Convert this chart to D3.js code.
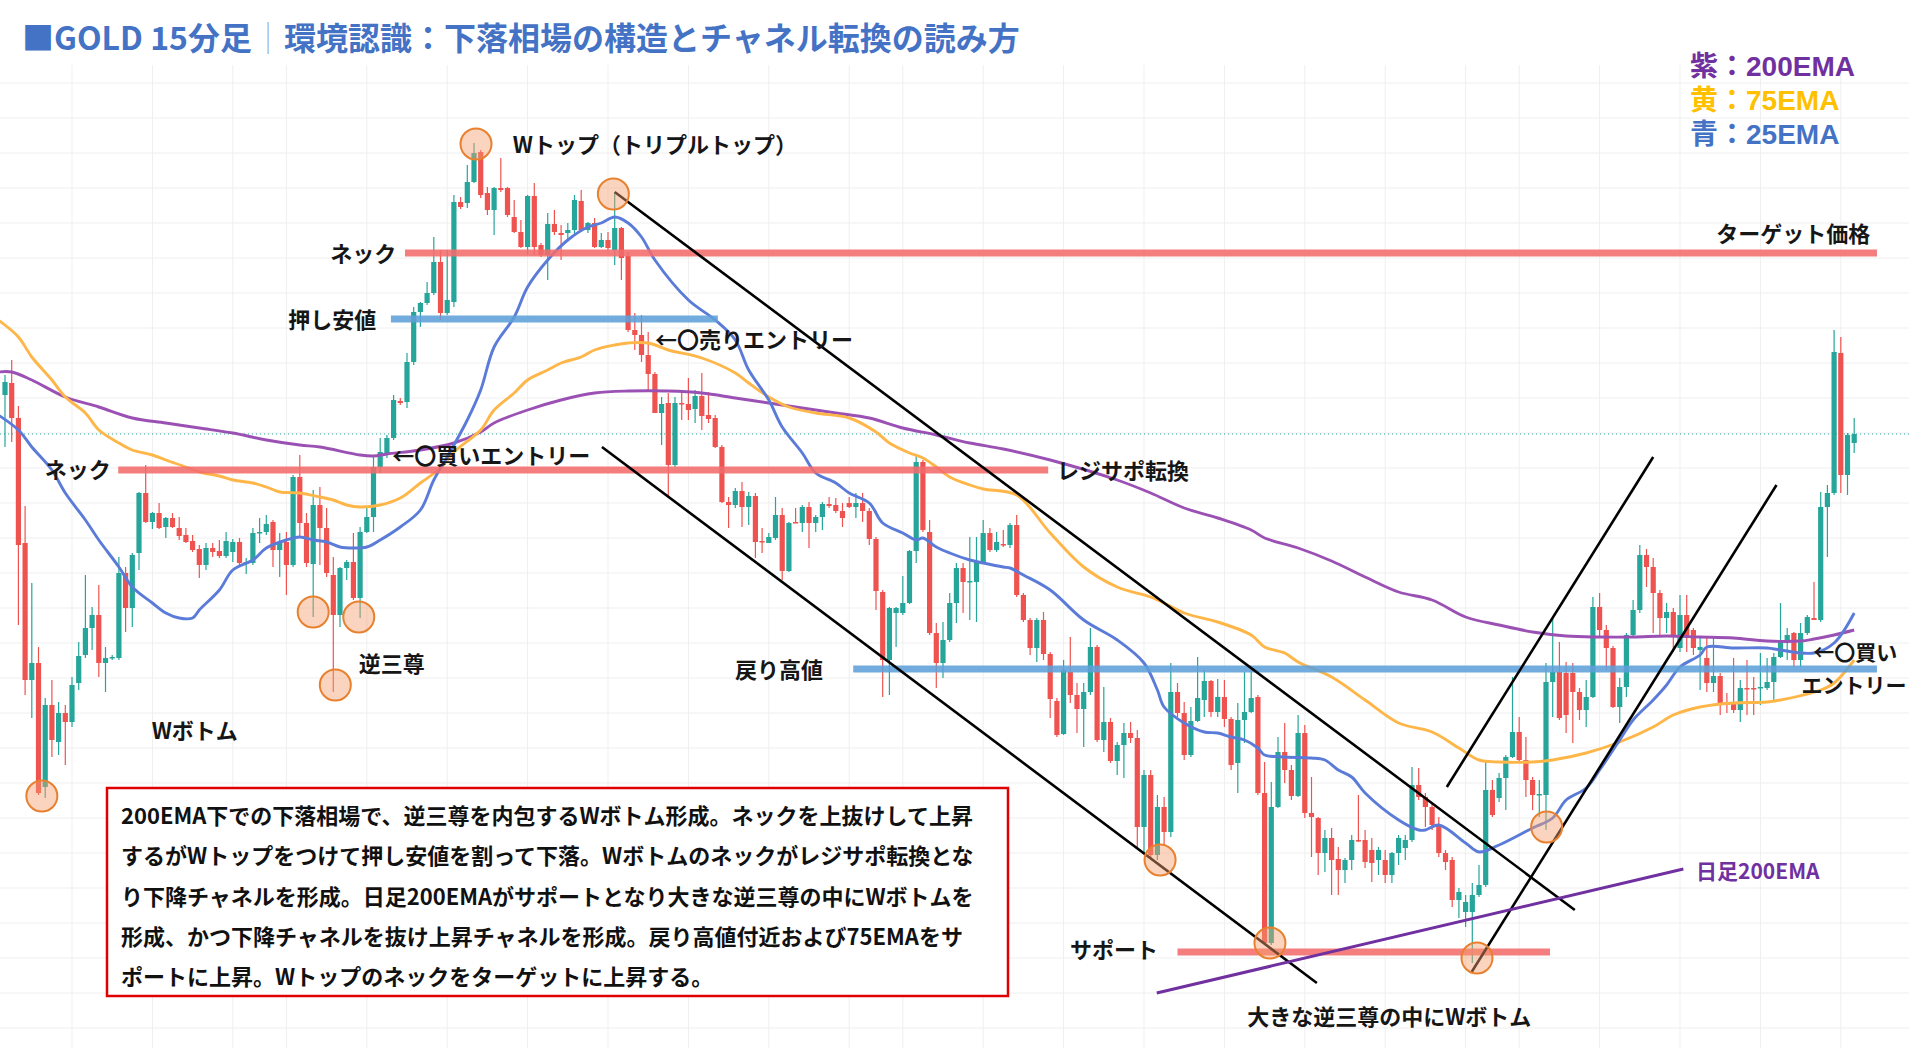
<!DOCTYPE html>
<html><head><meta charset="utf-8">
<script src="https://cdn.jsdelivr.net/npm/d3@7"></script>
<style>
html,body{margin:0;padding:0;background:#fff;}
svg{display:block;}
text{font-family:"Noto Sans CJK JP","Noto Sans",sans-serif;}
</style></head><body>
<svg id="chart" width="1909" height="1048"></svg>
<script>
// ---- candle data (price points, one per 15-minute bar) ----
const openP = [605,617,582,457,320,337,213,295,258,287,
278,317,345,372,385,337,342,342,427,392,
447,507,478,487,473,482,472,465,459,451,
435,452,449,444,448,458,437,437,467,468,
478,450,458,435,523,477,436,495,472,425,
385,432,438,402,468,483,533,545,562,599,
598,638,688,697,707,738,687,698,798,797,
818,848,807,790,812,812,783,768,753,804,
755,745,776,767,767,770,799,770,777,753,
760,750,772,744,670,665,645,626,587,597,
535,597,596,591,604,585,582,553,498,495,
509,493,504,459,457,462,485,429,478,477,
493,477,483,496,495,489,497,493,497,489,
461,408,340,387,387,397,449,538,468,367,
337,360,397,432,418,418,438,467,450,456,
455,475,405,380,352,380,346,299,266,328,
305,291,308,353,260,278,239,255,267,262,
173,225,145,193,168,308,287,245,279,300,
319,288,303,281,237,280,288,303,207,57,
193,248,230,204,267,187,182,147,162,141,
130,140,160,160,150,140,140,125,147,152,
160,215,203,193,175,147,140,100,88,88,
105,115,210,202,222,243,268,240,220,205,
205,318,328,327,327,308,290,303,393,370,
352,293,313,365,390,445,433,407,382,388,
352,385,370,350,342,317,324,298,298,290,
312,312,312,312,318,343,360,367,340,367,
382,380,493,507,647,525,557];
const highP = [625,640,594,494,417,353,302,320,298,295,
323,358,425,393,415,353,345,443,433,447,
508,535,488,497,483,487,483,472,465,455,
457,457,460,468,461,462,442,472,482,485,
480,467,468,525,545,487,510,513,492,443,
433,440,467,473,492,543,562,565,605,602,
647,693,698,718,763,750,750,805,803,835,
857,850,813,813,842,813,800,780,805,817,
757,787,790,775,777,805,810,778,782,767,
768,808,773,748,687,685,668,628,603,607,
603,610,622,610,627,608,585,555,503,512,
518,508,507,472,467,503,492,478,492,495,
498,485,498,503,502,497,503,507,507,492,
463,410,393,393,424,450,545,540,480,377,
378,407,437,437,463,463,480,472,468,470,
477,485,407,382,382,388,348,302,340,363,
317,317,372,355,313,282,258,277,278,270,
230,230,205,203,337,317,298,293,343,330,
320,321,320,283,297,328,330,305,238,218,
263,277,235,285,275,223,183,170,172,153,
142,165,205,170,162,153,150,148,165,165,
233,232,207,197,183,150,143,112,105,117,
135,238,220,227,245,323,283,263,223,220,
337,382,358,338,337,312,320,403,407,375,
354,322,367,400,455,451,442,410,397,392,
405,405,372,363,362,363,327,307,342,320,
340,323,347,342,347,397,372,368,377,385,
418,508,515,670,663,567,582];
const lowP = [553,558,375,305,282,205,202,243,245,235,
273,310,342,350,323,308,340,340,368,373,
430,477,471,471,462,472,460,457,448,422,
430,443,442,442,438,435,426,435,457,465,
433,423,405,433,463,433,383,435,423,308,
373,420,400,382,467,468,527,542,560,595,
592,635,673,695,705,680,685,693,791,792,
817,802,785,765,808,783,767,752,745,745,
743,720,765,740,760,765,768,767,752,752,
750,735,720,668,650,638,610,587,555,503,
533,580,580,577,570,577,552,497,472,492,
473,475,442,447,457,460,420,428,477,468,
452,468,470,492,487,473,492,482,478,455,
390,303,305,353,385,396,437,468,365,312,
322,358,377,387,380,378,437,448,448,453,
452,403,378,345,338,340,282,263,265,297,
267,253,305,258,248,237,225,222,257,152,
147,142,140,155,163,283,240,243,278,283,
283,283,273,230,207,257,287,205,55,55,
192,217,200,203,182,143,125,128,105,105,
117,130,158,132,118,125,117,117,135,140,
158,200,173,170,143,130,93,82,73,37,
103,113,183,198,190,242,237,203,190,183,
170,283,280,267,257,280,273,302,362,330,
292,277,303,362,387,413,367,365,367,348,
348,348,345,310,308,308,285,287,287,278,
285,285,295,310,300,342,340,333,333,365,
380,378,443,505,507,505,547];
const closeP = [618,582,455,320,337,207,295,260,287,278,
315,344,372,385,337,342,343,427,392,445,
507,478,487,472,482,473,464,458,450,435,
452,448,444,459,458,437,438,467,468,476,
450,458,435,523,477,437,495,472,427,385,
432,438,402,468,483,533,548,562,600,597,
638,688,697,707,738,687,700,798,793,818,
847,805,790,812,810,785,768,753,804,753,
745,776,768,765,770,800,770,777,753,760,
752,772,742,670,665,645,626,587,596,535,
597,596,590,604,584,581,553,498,495,509,
493,504,458,458,463,485,429,477,477,493,
477,483,496,494,489,482,493,497,489,461,
409,340,392,392,397,449,538,470,367,337,
360,397,432,418,419,438,467,450,458,455,
475,405,380,352,380,346,301,265,330,305,
291,308,353,260,278,239,255,267,262,173,
225,145,193,168,308,287,245,279,302,319,
288,303,281,235,280,288,302,207,57,193,
248,230,204,267,187,183,147,162,140,130,
140,160,159,138,137,150,125,147,162,160,
215,203,193,175,147,138,100,108,98,105,
115,210,185,222,243,268,240,220,205,206,
318,328,282,285,308,290,303,393,370,352,
293,313,365,390,445,433,407,382,388,365,
385,363,352,353,317,324,297,295,290,312,
311,311,313,318,343,360,365,340,367,383,
380,493,507,648,525,565,566];

// ---- moving averages: [bar index, value] ----
const ema25 = [[-1,585],[2,570],[4,553],[7,530],[9,507],[12,480],[14,460],[17,433],[19,413],[22,397],[24,387],[26,382],[28,382],[29,390],[32,410],[34,430],[37,440],[39,452],[42,460],[44,463],[46,460],[48,458],[50,453],[52,452],[54,453],[56,460],[59,473],[62,490],[64,520],[66,543],[69,580],[71,610],[73,653],[76,683],[78,713],[81,740],[84,760],[87,773],[89,777],[91,783],[93,777],[95,763],[97,740],[102,700],[106,680],[109,660],[111,630],[114,600],[116,573],[119,547],[121,527],[124,517],[126,507],[129,497],[131,477],[134,467],[136,460],[137,462],[139,453],[141,447],[144,440],[146,437],[149,433],[150,432],[152,425],[156,410],[161,380],[166,360],[170,337],[172,310],[173,293],[176,277],[179,268],[181,267],[183,263],[185,260],[187,252],[188,245],[191,243],[195,242],[197,240],[199,230],[201,223],[203,207],[208,180],[211,170],[212,170],[214,175],[218,157],[220,148],[223,155],[228,172],[231,182],[233,200],[236,212],[238,230],[241,260],[243,280],[246,300],[248,315],[250,333],[253,345],[254,353],[258,352],[263,352],[265,350],[270,347],[273,357],[276,387]];
const ema75 = [[-1,680],[2,663],[4,643],[7,620],[9,603],[12,587],[14,570],[17,557],[19,550],[22,545],[24,540],[27,533],[29,528],[32,524],[34,520],[37,517],[39,513],[41,508],[44,507],[47,503],[49,500],[51,495],[53,493],[56,495],[59,502],[62,517],[65,532],[67,548],[71,570],[73,590],[76,607],[78,620],[81,630],[83,637],[86,643],[88,650],[91,655],[93,657],[96,657],[99,650],[104,642],[109,627],[111,617],[114,603],[117,593],[121,587],[126,582],[130,568],[132,557],[135,547],[137,542],[139,533],[141,523],[144,515],[146,511],[151,505],[156,467],[161,433],[166,413],[171,403],[173,397],[176,387],[181,378],[186,365],[188,353],[191,347],[193,338],[198,323],[203,300],[208,277],[213,268],[217,252],[220,240],[223,238],[228,238],[231,240],[236,247],[241,258],[246,273],[249,285],[253,293],[258,297],[263,298],[265,300],[271,310],[273,317],[276,340]];
const ema200 = [[-1,628],[1,628],[4,620],[9,603],[14,593],[19,582],[24,577],[29,572],[34,567],[39,560],[44,555],[47,553],[53,545],[55,544],[57,546],[62,550],[67,557],[71,568],[73,577],[78,590],[83,600],[88,607],[93,609],[99,609],[104,607],[109,602],[114,597],[119,592],[124,587],[129,582],[134,572],[139,565],[144,557],[149,551],[156,540],[166,520],[171,507],[176,492],[181,482],[186,470],[188,462],[193,452],[198,439],[203,423],[208,408],[213,400],[218,383],[223,375],[228,368],[233,364],[238,363],[243,363],[248,364],[253,363],[258,362],[263,359],[268,359],[270,361],[273,365],[276,370]];

// ---- annotation levels: price, first bar, last bar, kind ----
const levelPrice = [747, 681, 530, 331, 48];
const levelStart = [59.7, 57.6, 16.9, 126.6, 175];
const levelEnd   = [279.4, 106.4, 155.7, 279.4, 230.6];
const levelKind  = ["res", "sup", "res", "sup", "res"];

// ---- trend lines: [bar0, price0, bar1, price1] ----
const channelLines = [[91,808,234.3,90],[89.1,553,195.8,17],[215.2,213,246,543],[218.9,28,264.4,515]];
const dailyEma200Line = [171.9,7,250.5,131];

// ---- marked points: [bar, price] ----
const marks = [[5.5,204],[46,388],[49.3,315],[52.8,383],[70.3,856],[90.8,806],[172.4,140],[188.8,57],[219.7,42],[230.1,173]];

// ---- labels: text, bar, price, anchor, size ----
const labelText = ["Wトップ（トリプルトップ）","ネック","押し安値","←〇売りエントリー","←〇買いエントリー","ネック","レジサポ転換","逆三尊","Wボトム","戻り高値","サポート","大きな逆三尊の中にWボトム","ターゲット価格","←〇買い","エントリー"];
const labelBar   = [75.8,58.4,55.4,97.0,57.8,15.8,157.0,52.8,21.9,122.1,172.1,185.4,278.4,269.9,283.8];
const labelPrice = [857,748,682,662,546,532,531,338,271,332,52,-15,768,349,316];
const labelAnchor= ["start","end","end","start","start","end","start","start","start","end","end","start","end","start","end"];
const labelSize  = [22,22,22,22,22,22,22,22,22,22,22,22,22,21,21];

const gridBars = [10,22,34,42,54,66,78,90,102,114,126,134,146,158,170,182,194,206,218,226,238,250,262,274];

const titleText = "■GOLD 15分足";
const titleRest = "環境認識：下落相場の構造とチャネル転換の読み方";
const legendText = ["紫：200EMA","黄：75EMA","青：25EMA"];
const noteLines = [
 "200EMA下での下落相場で、逆三尊を内包するWボトム形成。ネックを上抜けして上昇",
 "するがWトップをつけて押し安値を割って下落。Wボトムのネックがレジサポ転換とな",
 "り下降チャネルを形成。日足200EMAがサポートとなり大きな逆三尊の中にWボトムを",
 "形成、かつ下降チャネルを抜け上昇チャネルを形成。戻り高値付近および75EMAをサ",
 "ポートに上昇。Wトップのネックをターゲットに上昇する。"
];

// ---- drawing ----
const W = 1909, H = 1048;
const svg = d3.select("#chart");
const x = d3.scaleLinear().domain([0, 276]).range([5, 1854.2]);
const y = d3.scaleLinear().domain([0, 1000]).range([1000, 0]);

const UP = "#26a69a", DOWN = "#ef5350";

// grid
const gridVals = d3.range(917, -60, -35);
svg.append("g").selectAll("line").data(gridVals).join("line")
  .attr("x1", 0).attr("x2", W).attr("y1", d => y(d)).attr("y2", d => y(d))
  .attr("stroke", "#efefef").attr("stroke-width", 1);
svg.append("g").selectAll("line").data(gridBars).join("line")
  .attr("x1", d => x(d)).attr("x2", d => x(d)).attr("y1", 65).attr("y2", H)
  .attr("stroke", "#efefef").attr("stroke-width", 1);

// last price dotted line
const lastClose = closeP[closeP.length - 1];
svg.append("line").attr("x1", 0).attr("x2", W).attr("y1", y(lastClose)).attr("y2", y(lastClose))
  .attr("stroke", UP).attr("stroke-width", 1).attr("stroke-dasharray", "1,3");

// candles
const bars = d3.range(openP.length).map(i => ({i, o: openP[i], h: highP[i], l: lowP[i], c: closeP[i]}));
const cg = svg.append("g");
cg.selectAll("line").data(bars).join("line")
  .attr("x1", d => x(d.i)).attr("x2", d => x(d.i))
  .attr("y1", d => y(Math.max(d.h, d.o, d.c))).attr("y2", d => y(Math.min(d.l, d.o, d.c)))
  .attr("stroke", d => d.c >= d.o ? UP : DOWN).attr("stroke-width", 1.2);
cg.selectAll("rect").data(bars).join("rect")
  .attr("x", d => x(d.i) - 2.6).attr("width", 5.2)
  .attr("y", d => y(Math.max(d.o, d.c)))
  .attr("height", d => Math.max(1.5, Math.abs(y(d.o) - y(d.c))))
  .attr("fill", d => d.c >= d.o ? UP : DOWN);

// EMAs
const lineGen = d3.line().x(d => x(d[0])).y(d => y(d[1])).curve(d3.curveCatmullRom.alpha(0.5));
[[ema200, "#9b51b4"], [ema75, "#ffb649"], [ema25, "#5b7bd9"]].forEach(([data, col]) => {
  svg.append("path").attr("d", lineGen(data)).attr("fill", "none")
    .attr("stroke", col).attr("stroke-width", 2.9).attr("stroke-linejoin", "round");
});

// horizontal levels
const levels = levelPrice.map((p, k) => ({p, s: levelStart[k], e: levelEnd[k], kind: levelKind[k]}));
svg.append("g").selectAll("line").data(levels).join("line")
  .attr("x1", d => x(d.s)).attr("x2", d => x(d.e)).attr("y1", d => y(d.p)).attr("y2", d => y(d.p))
  .attr("stroke", d => d.kind === "res" ? "#f26b6b" : "#5e9fd8")
  .attr("stroke-opacity", 0.88).attr("stroke-width", 7);

// channel lines
svg.append("g").selectAll("line").data(channelLines).join("line")
  .attr("x1", d => x(d[0])).attr("y1", d => y(d[1])).attr("x2", d => x(d[2])).attr("y2", d => y(d[3]))
  .attr("stroke", "#000").attr("stroke-width", 2.6);
svg.append("line")
  .attr("x1", x(dailyEma200Line[0])).attr("y1", y(dailyEma200Line[1]))
  .attr("x2", x(dailyEma200Line[2])).attr("y2", y(dailyEma200Line[3]))
  .attr("stroke", "#7030a0").attr("stroke-width", 3);

// circles
svg.append("g").selectAll("circle").data(marks).join("circle")
  .attr("cx", d => x(d[0])).attr("cy", d => y(d[1])).attr("r", 15.5)
  .attr("fill", "rgba(244,160,110,0.45)").attr("stroke", "#e8802e").attr("stroke-width", 2);

// labels
svg.append("g").selectAll("text").data(labelText).join("text")
  .attr("x", (d, k) => x(labelBar[k])).attr("y", (d, k) => y(labelPrice[k]))
  .attr("text-anchor", (d, k) => labelAnchor[k]).attr("dominant-baseline", "central")
  .attr("font-size", (d, k) => labelSize[k]).attr("font-weight", 700).attr("fill", "#161616")
  .text(d => d);
svg.append("text").attr("x", x(252.4)).attr("y", y(130)).attr("dominant-baseline", "central")
  .attr("font-size", 21).attr("font-weight", 700).attr("fill", "#7030a0").text("日足200EMA");

// note box
svg.append("rect").attr("x", 107).attr("y", 788).attr("width", 901).attr("height", 208)
  .attr("fill", "#fff").attr("stroke", "#e00000").attr("stroke-width", 2.5);
svg.append("g").selectAll("text").data(noteLines).join("text")
  .attr("x", 121).attr("y", (d, k) => 814 + k * 40.3).attr("dominant-baseline", "central")
  .attr("font-size", 22).attr("font-weight", 700).attr("fill", "#111").text(d => d);

// title
const title = svg.append("text").attr("x", 22).attr("y", 36).attr("dominant-baseline", "central")
  .attr("font-size", 32).attr("font-weight", 700).attr("fill", "#4472c4");
title.append("tspan").text(titleText);
title.append("tspan").attr("fill", "#9fb3dc").attr("font-weight", 300).text("｜");
title.append("tspan").text(titleRest);

// legend
const legendColors = ["#7030a0", "#ffc000", "#4472c4"];
svg.append("g").selectAll("text").data(legendText).join("text")
  .attr("x", 1690).attr("y", (d, k) => 66 + k * 34).attr("dominant-baseline", "central")
  .style("font-family", '"Liberation Sans","Noto Sans CJK JP",sans-serif')
  .attr("font-size", 28).attr("font-weight", 700).attr("fill", (d, k) => legendColors[k]).text(d => d);
</script>
</body></html>
